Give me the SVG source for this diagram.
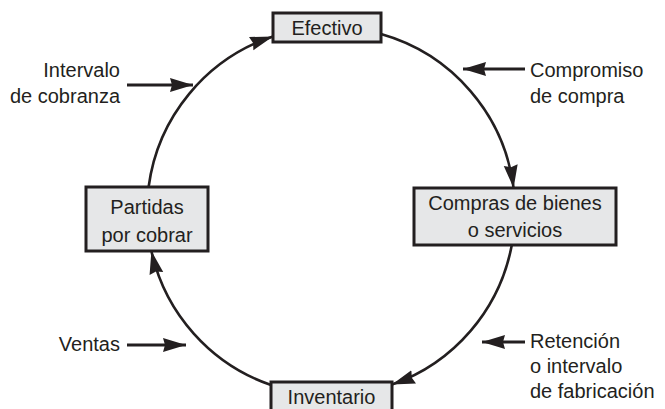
<svg xmlns="http://www.w3.org/2000/svg" width="665" height="409" viewBox="0 0 665 409">
<style>
.box{fill:#e6e7e8;stroke:#231f20;stroke-width:3}
.t{font-family:"Liberation Sans",Arial,sans-serif;font-size:20px;fill:#231f20}
.c{text-anchor:middle}
.e{text-anchor:end}
.arc{fill:none;stroke:#231f20;stroke-width:2.6}
.ln{fill:none;stroke:#231f20;stroke-width:2.8}
</style>
<defs>
<marker id="ah" markerUnits="userSpaceOnUse" markerWidth="26" markerHeight="16" refX="23" refY="7" orient="auto">
<path d="M0,0 L23,7 L0,14 L2,7 Z" fill="#231f20"/>
</marker>
</defs>
<rect width="665" height="409" fill="#ffffff"/>
<g id="connectors">
<path class="arc" d="M381,34 A184,184 0 0 1 513.6,188" marker-end="url(#ah)"/>
<path class="arc" d="M511.8,245 A184,184 0 0 1 392,384.6" marker-end="url(#ah)"/>
<path class="arc" d="M271,385 A184,184 0 0 1 151.4,251" marker-end="url(#ah)"/>
<path class="arc" d="M148.6,187 A184,184 0 0 1 273,36.4" marker-end="url(#ah)"/>
<path class="ln" d="M127,85 L193,85" marker-end="url(#ah)"/>
<path class="ln" d="M525,69 L463,69" marker-end="url(#ah)"/>
<path class="ln" d="M127,345 L186,345" marker-end="url(#ah)"/>
<path class="ln" d="M525,342 L482,342" marker-end="url(#ah)"/>
</g>
<g id="efectivo">
<rect class="box" x="273" y="13" width="108" height="29"/>
<text class="t c" x="327" y="35">Efectivo</text>
</g>
<g id="compras">
<rect class="box" x="414" y="188" width="202" height="57"/>
<text class="t c" x="515" y="210">Compras de bienes</text>
<text class="t c" x="515" y="237">o servicios</text>
</g>
<g id="inventario">
<rect class="box" x="271" y="382" width="121" height="32"/>
<text class="t c" x="331.5" y="404">Inventario</text>
</g>
<g id="partidas">
<rect class="box" x="86" y="187" width="122" height="64"/>
<text class="t c" x="147" y="214">Partidas</text>
<text class="t c" x="147" y="242">por cobrar</text>
</g>
<g id="labels">
<text class="t e" x="120" y="77">Intervalo</text>
<text class="t e" x="120" y="103">de cobranza</text>
<text class="t" x="530" y="77">Compromiso</text>
<text class="t" x="530" y="103">de compra</text>
<text class="t e" x="120" y="351">Ventas</text>
<text class="t" x="530" y="348">Retención</text>
<text class="t" x="530" y="373">o intervalo</text>
<text class="t" x="530" y="398">de fabricación</text>
</g>
</svg>
